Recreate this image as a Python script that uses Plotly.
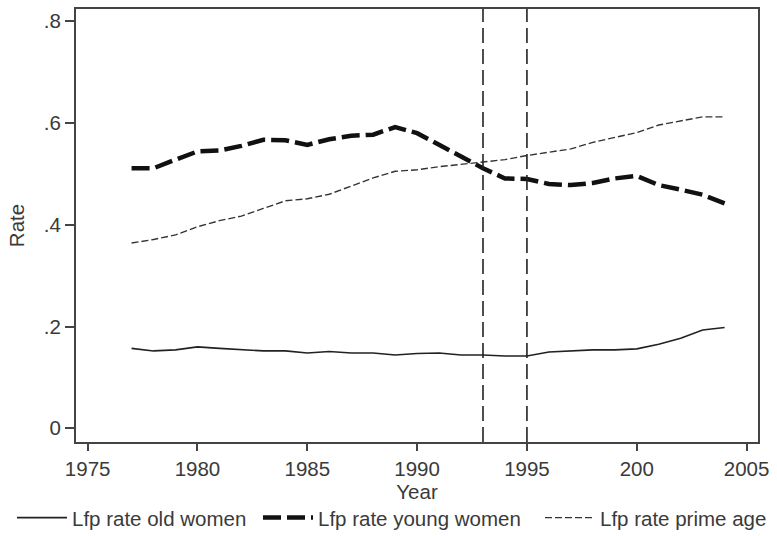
import plotly.graph_objects as go

years = list(range(1977, 2005))
old_women = [0.157, 0.152, 0.154, 0.160, 0.157, 0.154, 0.152, 0.152, 0.148, 0.151,
             0.148, 0.148, 0.144, 0.147, 0.148, 0.144, 0.144, 0.142, 0.142, 0.150,
             0.152, 0.154, 0.154, 0.156, 0.165, 0.177, 0.193, 0.198]
young_women = [0.511, 0.511, 0.528, 0.544, 0.546, 0.555, 0.567, 0.566, 0.557, 0.568,
               0.575, 0.577, 0.592, 0.580, 0.557, 0.534, 0.511, 0.491, 0.490, 0.480,
               0.478, 0.482, 0.491, 0.496, 0.478, 0.469, 0.459, 0.442]
prime_age = [0.364, 0.371, 0.380, 0.396, 0.408, 0.417, 0.432, 0.447, 0.451, 0.460,
             0.476, 0.492, 0.505, 0.508, 0.514, 0.519, 0.523, 0.528, 0.536, 0.543,
             0.549, 0.562, 0.572, 0.581, 0.596, 0.604, 0.612, 0.612]
ref_years = [1993, 1995]

x_tickvals = [1975, 1980, 1985, 1990, 1995, 2000, 2005]
x_ticktext = ["1975", "1980", "1985", "1990", "1995", "200", "2005"]
y_tickvals = [0, 0.2, 0.4, 0.6, 0.8]
y_ticktext = ["0", ".2", ".4", ".6", ".8"]

FONT = "Liberation Sans, Arial, sans-serif"
TXT = "#3a3a3a"
FS = 20.5

fig = go.Figure()
fig.add_trace(go.Scatter(x=years, y=old_women, mode="lines", name="Lfp rate old women",
                         line=dict(color="#222", width=1.6), legend="legend"))
fig.add_trace(go.Scatter(x=years, y=young_women, mode="lines", name="Lfp rate young women",
                         line=dict(color="#111", width=4.5, dash="18px,6px"), legend="legend2"))
fig.add_trace(go.Scatter(x=years, y=prime_age, mode="lines", name="Lfp rate prime age",
                         line=dict(color="#333", width=1.4, dash="7px,3px"), legend="legend3"))

for yr in ref_years:
    fig.add_vline(x=yr, line=dict(color="#222", width=1.6, dash="15px,6px"))

axis_common = dict(showgrid=False, zeroline=False, showline=True, mirror=True,
                   linecolor="#444", linewidth=2, ticks="outside", tickcolor="#444",
                   tickwidth=1.5, tickfont=dict(family=FONT, size=FS, color=TXT))

fig.update_xaxes(range=[1974.47, 2005.52], tickvals=x_tickvals, ticktext=x_ticktext,
                 ticklen=7, title=dict(text="Year", font=dict(family=FONT, size=FS, color=TXT),
                                       standoff=0), **axis_common)
fig.update_yaxes(range=[-0.027, 0.824], tickvals=y_tickvals, ticktext=y_ticktext,
                 ticklen=9, title=dict(text="Rate", font=dict(family=FONT, size=FS, color=TXT),
                                       standoff=14), **axis_common)

leg_common = dict(orientation="h", yanchor="middle", y=-0.175, xanchor="left",
                  font=dict(family=FONT, size=FS, color=TXT), bgcolor="rgba(0,0,0,0)",
                  itemwidth=50, borderwidth=0)
fig.update_layout(
    width=777, height=536,
    margin=dict(l=76, r=19, t=9, b=94, autoexpand=False),
    paper_bgcolor="white", plot_bgcolor="white",
    showlegend=True,
    legend=dict(x=(12 - 76) / 682, **leg_common),
    legend2=dict(x=(258 - 76) / 682, **leg_common),
    legend3=dict(x=(540 - 76) / 682, **leg_common),
)

fig.write_html("out.html", config={"displayModeBar": False},
               post_script="document.body.style.margin='0';")
